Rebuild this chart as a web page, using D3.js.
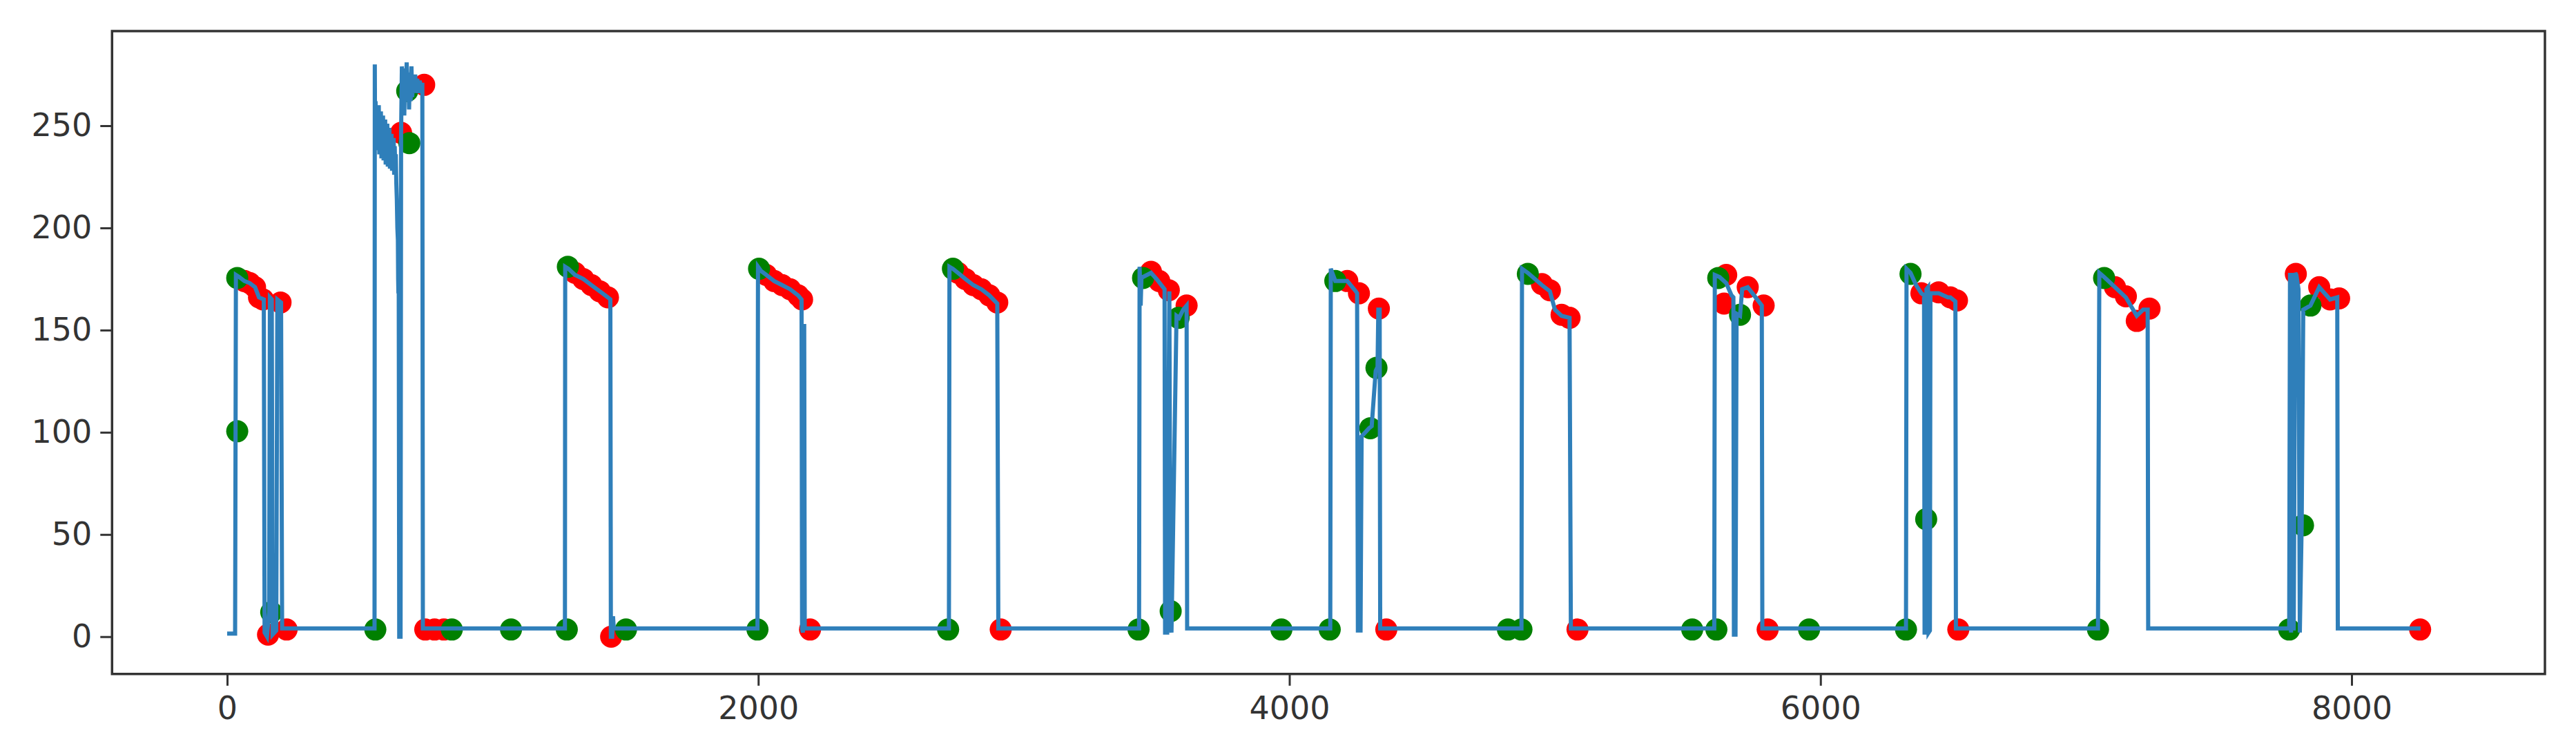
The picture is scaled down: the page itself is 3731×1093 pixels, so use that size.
<!DOCTYPE html>
<html>
<head>
<meta charset="utf-8">
<script src="https://cdn.jsdelivr.net/npm/d3@7"></script>
<style>
  html, body { margin: 0; padding: 0; background: #ffffff; }
  svg { display: block; }
</style>
</head>
<body>
<svg id="chart" width="3731" height="1093"></svg>
<script>
// ---- data ----
const lineX = [
  0, 30, 33, 45, 65, 85, 105, 120, 138, 141, 150, 158, 161, 168, 171, 185, 189, 203, 207,
  555, 556, 557, 559, 561, 563, 565, 567, 569, 571, 573, 575, 577, 579, 581, 583, 585, 587, 589, 591, 593, 595, 597, 599,
  601, 603, 605, 607, 609, 611, 613, 615, 617, 619, 621, 623, 625, 627, 629, 631, 633, 635, 637, 639, 641, 643, 644, 645, 646, 648, 653,
  655, 658, 661, 664, 667, 670, 673, 676, 679, 682, 685, 688, 691, 694, 697, 700, 704, 708, 712, 716, 720, 725, 730, 735, 737,
  1272, 1273, 1285, 1310, 1341, 1372, 1403, 1434, 1443, 1445, 1450, 1453, 1456,
  1997, 1999, 2010, 2030, 2060, 2090, 2120, 2150, 2163, 2165, 2168, 2170, 2173, 2175,
  2718, 2720, 2733, 2752, 2780, 2810, 2840, 2870, 2900, 2904,
  3434, 3436, 3440, 3443, 3449, 3479, 3500, 3530, 3532, 3540, 3548, 3552, 3556, 3575, 3585, 3600, 3613, 3615,
  4154, 4156, 4173, 4218, 4250, 4255, 4258, 4268, 4272, 4300, 4310, 4325, 4332, 4335, 4340, 4342,
  4874, 4876, 4898, 4951, 4981, 5000, 5025, 5055, 5060,
  5600, 5602, 5620, 5645, 5665, 5672, 5674, 5680, 5684, 5697, 5705, 5726, 5750, 5779, 5781,
  6322, 6324, 6339, 6360, 6380, 6390, 6392, 6396, 6399, 6405, 6407, 6412, 6414, 6445, 6480, 6489, 6508, 6510,
  7045, 7050, 7068, 7109, 7150, 7191, 7215, 7232, 7234,
  7765, 7768, 7772, 7776, 7782, 7788, 7792, 7800, 7805, 7812, 7818, 7845, 7878, 7919, 7946, 7948, 8260
];
const lineY = [
  1.5, 1.5, 177, 176, 174, 173, 171, 166, 165, 2, 0, 12, 166, 165, 1, 3, 165, 163.5, 4,
  4, 280, 245, 262, 240, 258, 238, 256, 242, 260, 236, 254, 240, 257, 234, 252, 238, 255, 233, 250, 236, 253, 231, 249,
  235, 251, 230, 247, 233, 249, 229, 245, 232, 246, 228, 243, 230, 244, 226, 240, 228, 236, 222, 214, 200, 194, 175, 168, 190, 0, 0,
  246, 279, 262, 275, 255, 278, 262, 281, 268, 276, 258, 274, 262, 279, 264, 272, 266, 275, 268, 273, 266, 272, 269, 271, 4,
  4, 181, 180, 177, 175, 172, 169, 166, 165, 0, 0, 10, 4,
  4, 181, 179, 177, 174, 172, 170, 167, 165, 4, 2, 152, 152, 4,
  4, 181, 180, 178, 175, 172, 170, 167, 163, 4,
  4, 181, 162, 176, 176, 178, 175, 170, 2, 2, 169, 12, 2, 157, 156, 160, 162, 4,
  4, 180, 174, 174, 169, 168, 3, 3, 98, 102, 103, 130, 132, 160, 160, 4,
  4, 180, 178, 172, 169, 160, 157, 156, 4,
  4, 177, 176, 173, 167, 166, 1, 1, 158, 157, 170, 171, 167, 162, 4,
  4, 180, 178, 172, 168, 167, 1, 58, 170, 171, 2, 3, 168, 168, 166, 166, 164, 4,
  4, 178, 176, 171, 166, 157, 160, 160, 4,
  4, 178, 2, 178, 3, 178, 177, 170, 2, 55, 160, 162, 171, 165, 166, 4, 4
];
const greenX = [38, 38, 166, 558, 678, 686, 846, 1069, 1279, 1283, 1502, 1997, 2003, 2715, 2733,
  3432, 3449, 3553, 3583, 3970, 4152, 4173, 4305, 4328, 4823, 4874, 4898, 5517, 5608, 5615, 5697,
  5957, 6322, 6339, 6398, 7045, 7068, 7765, 7817, 7845];
const greenY = [100.5, 175.5, 12, 3.5, 267, 241.5, 3.5, 3.5, 3.5, 181, 3.5, 3.5, 180, 3.5, 180,
  3.5, 175.5, 12.5, 156, 3.5, 3.5, 174, 102, 131.5, 3.5, 3.5, 177.5, 3.5, 3.5, 175.5, 157.5,
  3.5, 3.5, 177.5, 57.5, 3.5, 175.5, 3.5, 54.5, 162];
const redX = [65, 85, 105, 120, 135, 154, 201, 224,
  655, 742, 746, 781, 816,
  1310, 1341, 1372, 1403, 1434, 1446,
  2030, 2060, 2090, 2120, 2150, 2165, 2195,
  2752, 2780, 2810, 2840, 2870, 2900, 2913,
  3479, 3510, 3546, 3613,
  4218, 4262, 4337, 4365,
  4951, 4981, 5025, 5055, 5085,
  5637, 5645, 5726, 5786, 5801,
  6380, 6445, 6489, 6514, 6519,
  7109, 7150, 7191, 7239,
  7790, 7878, 7919, 7953, 8258];
const redY = [174, 173, 171, 166, 165, 1, 163.5, 3.5,
  246.5, 270, 3.5, 3.5, 3.5,
  178, 175, 172, 169, 166, 0,
  177, 174, 172, 170, 167, 165, 3.5,
  178, 175, 172, 170, 167, 163.5, 3.5,
  178.5, 174, 169.5, 162,
  174, 168, 160.5, 3.5,
  172.5, 169.5, 157.5, 156, 3.5,
  163, 177, 171, 162, 3.5,
  168, 168.5, 166, 164.5, 3.5,
  171, 166.5, 154.5, 160.5,
  177.5, 171, 165, 165.5, 3.5];
const xTicks = [0, 2000, 4000, 6000, 8000];
const yTicks = [0, 50, 100, 150, 200, 250];

// ---- layout ----
const plot = { left: 162.3, right: 3686, top: 45, bottom: 975.7 };
const svg = d3.select("#chart");

const x = d3.scaleLinear().domain([-433.4, 8728]).range([plot.left, plot.right]);
const y = d3.scaleLinear().domain([-18.25, 296.3]).range([plot.bottom, plot.top]);

// clip
svg.append("defs").append("clipPath").attr("id", "clip")
  .append("rect")
  .attr("x", plot.left).attr("y", plot.top)
  .attr("width", plot.right - plot.left).attr("height", plot.bottom - plot.top);

const g = svg.append("g").attr("clip-path", "url(#clip)");

// scatter (drawn below the line, as in matplotlib's default z-order)
const green = greenX.map((v, i) => [v, greenY[i]]);
const red = redX.map((v, i) => [v, redY[i]]);
g.append("g").selectAll("circle").data(red).join("circle")
  .attr("cx", d => x(d[0])).attr("cy", d => y(d[1])).attr("r", 16).attr("fill", "#ff0000");
g.append("g").selectAll("circle").data(green).join("circle")
  .attr("cx", d => x(d[0])).attr("cy", d => y(d[1])).attr("r", 16).attr("fill", "#008000");

// line
const pts = lineX.map((v, i) => [v, lineY[i]]);
g.append("path")
  .datum(pts)
  .attr("fill", "none")
  .attr("stroke", "#2f7fba")
  .attr("stroke-width", 6)
  .attr("stroke-linejoin", "miter")
  .attr("d", d3.line().x(d => x(d[0])).y(d => y(d[1])));

// axes
const fontSize = 46;
const xAxis = d3.axisBottom(x).tickValues(xTicks).tickFormat(d3.format("d")).tickSizeOuter(0).tickSize(17).tickPadding(16);
const yAxis = d3.axisLeft(y).tickValues(yTicks).tickFormat(d3.format("d")).tickSizeOuter(0).tickSize(17).tickPadding(12);

const gx = svg.append("g").attr("transform", `translate(0,${plot.bottom})`).call(xAxis);
const gy = svg.append("g").attr("transform", `translate(${plot.left},0)`).call(yAxis);
[gx, gy].forEach(a => {
  a.select(".domain").remove();
  a.selectAll(".tick line").attr("stroke", "#333").attr("stroke-width", 3);
  a.selectAll(".tick text")
    .attr("fill", "#333")
    .style("font-family", "'DejaVu Sans', sans-serif")
    .style("font-size", fontSize + "px");
});

// frame
svg.append("rect")
  .attr("x", plot.left).attr("y", plot.top)
  .attr("width", plot.right - plot.left).attr("height", plot.bottom - plot.top)
  .attr("fill", "none").attr("stroke", "#333").attr("stroke-width", 3.5);
</script>
</body>
</html>
